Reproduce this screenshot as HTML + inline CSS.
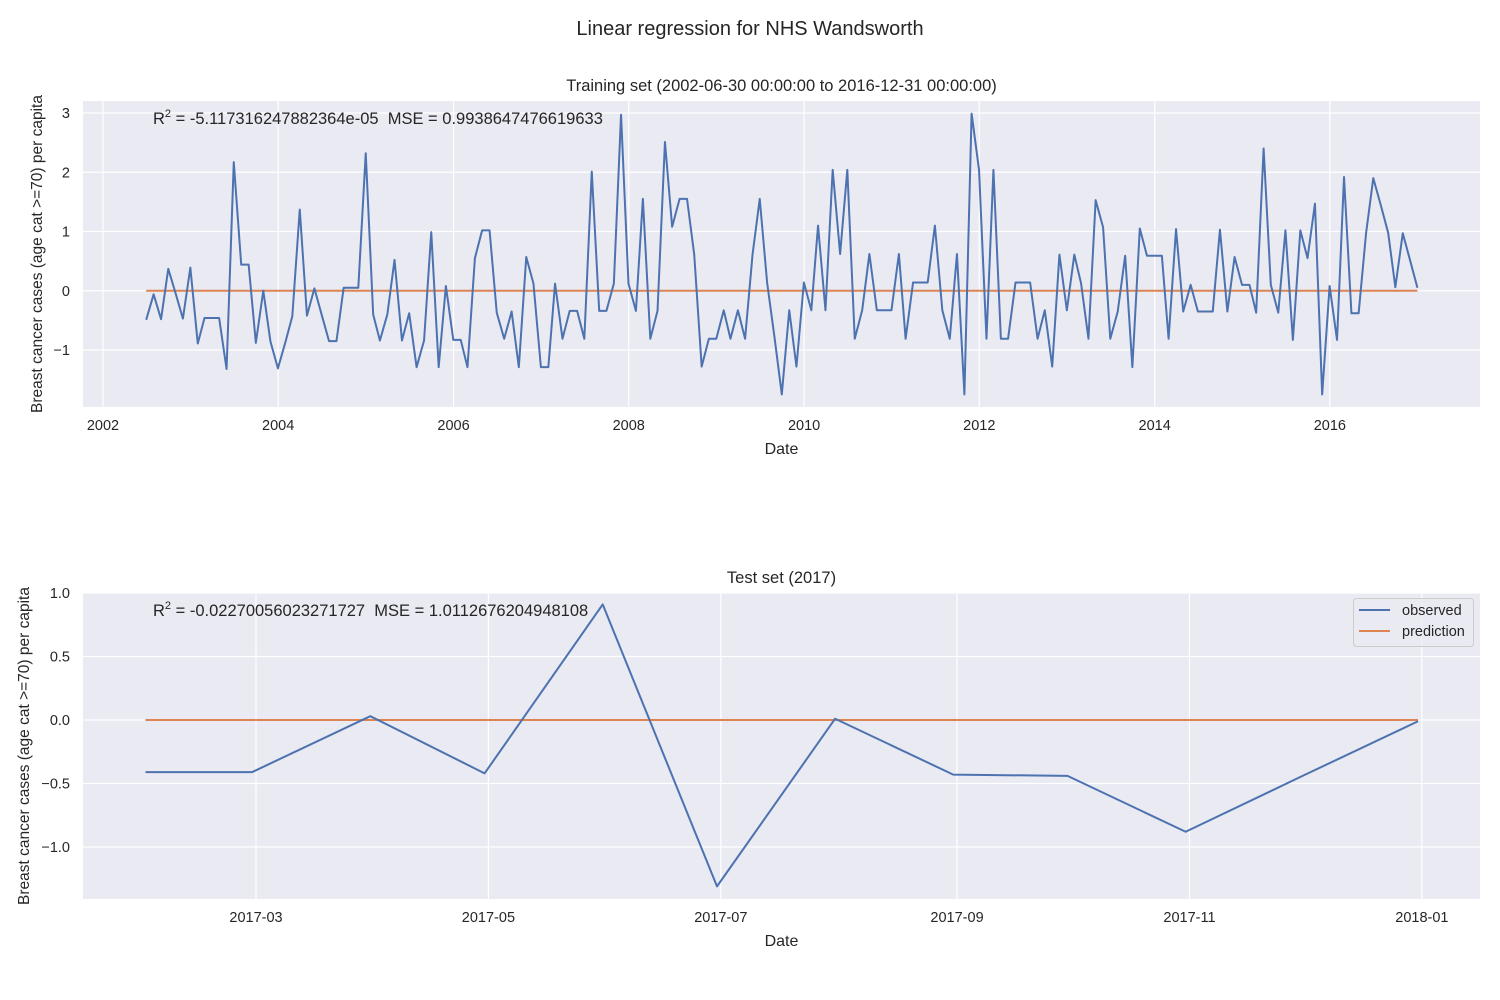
<!DOCTYPE html>
<html><head><meta charset="utf-8"><style>
body{margin:0;background:#fff;}
svg{display:block;font-family:"Liberation Sans","DejaVu Sans",sans-serif;}
</style></head><body>
<svg id="c" width="1500" height="1000" viewBox="0 0 1500 1000">
<text x="750" y="35" font-size="20" text-anchor="middle" fill="#262626">Linear regression for NHS Wandsworth</text>
</svg>
<script>
const trainStart = [2002, 6]; // year, month (month-end dates)
const trainObserved = [-0.49,-0.06,-0.48,0.37,-0.05,-0.47,0.39,-0.89,-0.46,-0.46,-0.46,-1.32,2.17,0.44,0.44,-0.88,0.0,-0.86,-1.31,-0.87,-0.43,1.37,-0.42,0.04,-0.4,-0.85,-0.85,0.05,0.05,0.05,2.32,-0.40,-0.84,-0.40,0.52,-0.84,-0.38,-1.29,-0.84,0.99,-1.29,0.08,-0.83,-0.83,
-1.29,0.55,1.02,1.02,-0.37,-0.81,-0.35,-1.29,0.57,0.12,-1.29,-1.29,0.12,-0.81,-0.34,-0.34,-0.81,2.01,-0.34,-0.34,0.12,2.97,0.12,-0.34,1.55,-0.81,-0.34,2.51,1.08,1.55,1.55,0.61,-1.28,-0.81,-0.81,-0.33,-0.81,-0.33,-0.81,0.61,1.55,0.13,-0.8,
-1.75,-0.33,-1.28,0.14,-0.33,1.10,-0.33,2.04,0.62,2.04,-0.81,-0.33,0.62,-0.33,-0.33,-0.33,0.62,-0.81,0.14,0.14,0.14,1.10,-0.33,-0.81,0.62,-1.75,2.99,2.04,-0.81,2.04,-0.81,-0.81,0.14,0.14,0.14,-0.81,-0.33,-1.28,0.61,-0.33,0.61,0.13,-0.81,
1.53,1.07,-0.81,-0.35,0.59,-1.29,1.05,0.59,0.59,0.59,-0.81,1.04,-0.35,0.10,-0.35,-0.35,-0.35,1.03,-0.35,0.57,0.10,0.10,-0.37,2.40,0.10,-0.37,1.02,-0.83,1.02,0.55,1.47,-1.75,0.08,-0.83,1.92,-0.38,-0.38,0.97,1.90,1.45,0.98,0.06,0.97,0.52,0.05];
const trainPredValue = 0.0;
const trainYTicks = [-1,0,1,2,3];
const trainXTicks = [2002,2004,2006,2008,2010,2012,2014,2016];

const testMonths = [1,2,3,4,5,6,7,8,9,10,11,12]; // 2017 month-ends
const testObserved = [-0.41,-0.41,0.03,-0.42,0.91,-1.31,0.01,-0.43,-0.44,-0.88,-0.45,-0.01];
const testPrediction = [0,0,0,0,0,0,0,0,0,0,0,0];
const testYTicks = [-1.0,-0.5,0.0,0.5,1.0];
const testXTickLabels = ["2017-03","2017-05","2017-07","2017-09","2017-11","2018-01"];

const NS="http://www.w3.org/2000/svg";
const svg=document.getElementById('c');
function el(tag,attrs,parent){const e=document.createElementNS(NS,tag);for(const k in attrs)e.setAttribute(k,attrs[k]);(parent||svg).appendChild(e);return e;}
const BLUE="#4c72b0",ORANGE="#dd8452",TXT="#262626";
function monthEnd(y,m){return Date.UTC(y,m,0);}
function dayMs(y,m,d){return Date.UTC(y,m-1,d);}

function panel(o){
  const g=el('g',{});
  
  
  const bg=el('rect',{x:o.L,y:o.T,width:o.R-o.L,height:o.B-o.T,fill:'#eaeaf2'},g);
  
  
  const xs=t=>o.L+(t-o.x0)/(o.x1-o.x0)*(o.R-o.L);
  const ys=v=>o.B-(v-o.y0)/(o.y1-o.y0)*(o.B-o.T);
  o.xticks.forEach((t,i)=>{const x=xs(t);
    const l=el('line',{x1:x,x2:x,y1:o.T,y2:o.B,stroke:'#fff','stroke-width':1.2},g);
    
    
    const tx=el('text',{x:x,y:o.B+23,'font-size':14.5,'text-anchor':'middle',fill:TXT},g);
    
    
    tx.textContent=o.xlabels[i];});
  o.yticks.forEach(v=>{const y=ys(v);
    const l=el('line',{x1:o.L,x2:o.R,y1:y,y2:y,stroke:'#fff','stroke-width':1.2},g);
    
    
    const tx=el('text',{x:o.L-13,y:y+5,'font-size':14.5,'text-anchor':'end',fill:TXT},g);
    
    
    tx.textContent=o.yfmt(v).replace('-','\u2212');});
  const p1=el('polyline',{points:o.pts.map(p=>xs(p[0])+','+ys(p[2])).join(' '),fill:'none',stroke:ORANGE,'stroke-width':2},g);
  
  
  const p2=el('polyline',{points:o.pts.map(p=>xs(p[0])+','+ys(p[1])).join(' '),fill:'none',stroke:BLUE,'stroke-width':2,'stroke-linejoin':'round'},g);
  
  
  const t=el('text',{x:(o.L+o.R)/2,y:o.T-10,'font-size':16.5,'text-anchor':'middle',fill:TXT},g);
  
  
  t.textContent=o.title;
  const xl=el('text',{x:(o.L+o.R)/2,y:o.B+47,'font-size':16,'text-anchor':'middle',fill:TXT},g);
  
  
  xl.textContent='Date';
  const yl=el('text',{x:0,y:0,'font-size':15.5,'text-anchor':'middle',fill:TXT,transform:`translate(${o.ylx},${(o.T+o.B)/2}) rotate(-90)`},g);
  
  
  yl.textContent='Breast cancer cases (age cat >=70) per capita';
  const an=el('text',{x:153,y:o.T+23,'font-size':16.5,fill:TXT},g);
  
  
  an.innerHTML='R<tspan dy="-7" font-size="11">2</tspan><tspan dy="7"> = '+o.r2+'\u00a0\u00a0MSE = '+o.mse+'</tspan>';
  return g;
}

const trainPts=trainObserved.map((v,i)=>{const m=trainStart[1]+i;const y=trainStart[0]+Math.floor((m-1)/12);const mm=((m-1)%12)+1;return [monthEnd(y,mm),v,trainPredValue];});
panel({name:'training-panel',L:83,R:1480,T:101,B:407,
  x0:dayMs(2002,1,1)-(20/87.64)*365.25*864e5,x1:dayMs(2002,1,1)+((1480-103)/87.64)*365.25*864e5,
  y0:-1-(407-350)/59.25,y1:3+(113-101)/59.25,
  xticks:trainXTicks.map(y=>dayMs(y,1,1)),xlabels:trainXTicks.map(String),
  yticks:trainYTicks,yfmt:v=>String(v),pts:trainPts,ylx:42,
  title:'Training set (2002-06-30 00:00:00 to 2016-12-31 00:00:00)',
  r2:'-5.117316247882364e-05',mse:'0.9938647476619633'});

const testPts=testMonths.map((m,i)=>[monthEnd(2017,m),testObserved[i],testPrediction[i]]);
const pxPerDay=3.81, d0=dayMs(2017,3,1);
const tickDates=testXTickLabels.map(s=>{const [y,m]=s.split('-').map(Number);return dayMs(y,m,1);});
panel({name:'test-panel',L:83,R:1480,T:593,B:899,
  x0:d0-(256-83)/pxPerDay*864e5,x1:d0+(1480-256)/pxPerDay*864e5,
  y0:-1-(899-847)/127,y1:1,
  xticks:tickDates,xlabels:testXTickLabels,
  yticks:testYTicks,yfmt:v=>v.toFixed(1),pts:testPts,ylx:29,
  title:'Test set (2017)',
  r2:'-0.02270056023271727',mse:'1.0112676204948108'});

const lg=el('g',{});


el('rect',{x:1353.5,y:598.5,width:120,height:48,rx:3,fill:'#eaeaf2','fill-opacity':0.8,stroke:'#cccccc'},lg);
[['observed',BLUE,611],['prediction',ORANGE,632]].forEach(([n,c,y])=>{
  const l=el('line',{x1:1359,x2:1390,y1:y-1,y2:y-1,stroke:c,'stroke-width':2},lg);
  
  
  const t=el('text',{x:1402,y:y+4,'font-size':14.5,fill:TXT},lg);
  
  
  t.textContent=n;});
</script>
</body></html>
